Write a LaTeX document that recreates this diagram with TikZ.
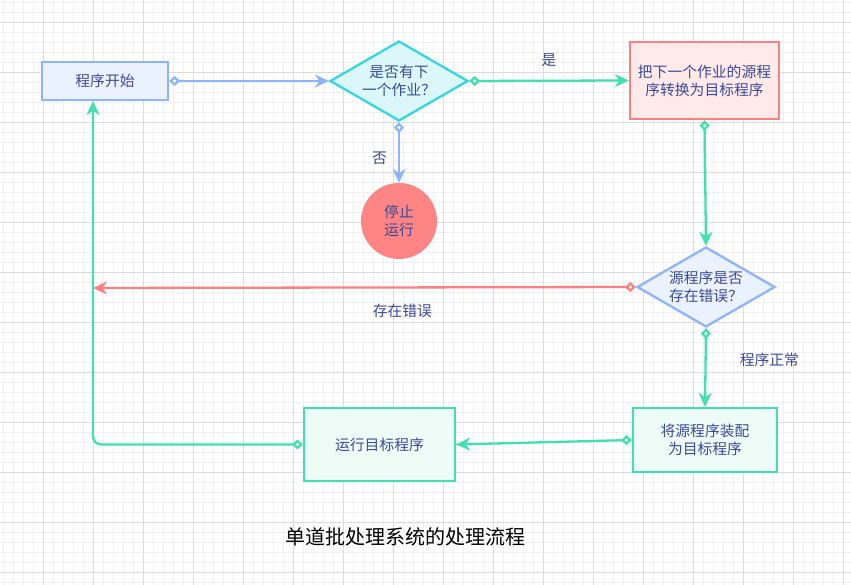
\documentclass[tikz,border=0pt]{standalone}
\usepackage{fontspec}
\setmainfont{Noto Sans CJK SC}
\usepackage{tikz}
\usetikzlibrary{positioning,shapes.geometric,arrows.meta,calc}
\definecolor{ink}      {HTML}{3C4A96}
\definecolor{skyline}  {HTML}{8FB4FF}
\definecolor{cyanline} {HTML}{36D5E3}
\definecolor{mint}     {HTML}{40E0B0}
\definecolor{coral}    {HTML}{FF8080}
\definecolor{gridmaj}  {HTML}{DCDCDC}
\definecolor{gridmin}  {HTML}{F1F1F1}
\colorlet{skyfill}{skyline!18}
\colorlet{cyanfill}{cyanline!18}
\colorlet{pinkfill}{coral!17}
\colorlet{mintfill}{mint!9}
\tikzset{
  every node/.style={font=\fontsize{14.8}{18}\selectfont, text=ink},
  % --- nodes
  mod/.style    = {draw, line width=2.3pt, align=center, inner sep=0pt},
  start/.style  = {mod, draw=skyline, fill=skyfill, minimum width=126, minimum height=38},
  ask/.style    = {mod, diamond, aspect=1.725, minimum width=138, minimum height=80},
  job/.style    = {mod, draw=coral, fill=pinkfill},
  runbox/.style = {mod, draw=mint, fill=mintfill},
  halt/.style   = {circle, fill=coral!96, minimum size=76, inner sep=0pt, align=center},
  lbl/.style    = {inner sep=1pt},
  % --- edges
  e/.style      = {arrows={Diamond[fill=white,length=11pt,width=10pt]-Stealth[length=14pt,width=13pt,inset=4.5pt]},
                   line width=2.3pt},
  eb/.style     = {e, draw=skyline},
  eg/.style     = {e, draw=mint},
  er/.style     = {e, draw=coral},
}

\begin{document}
\begin{tikzpicture}[x=1pt,y=-1pt]
  \useasboundingbox (0,0) rectangle (851,585);
  \fill[white] (0,0) rectangle (851,585);
  % grid
  \foreach \gx in {3,13,...,853} \draw[gridmin,line width=0.8pt] (\gx,0) -- (\gx,585);
  \foreach \gy in {2,12,...,582} \draw[gridmin,line width=0.8pt] (0,\gy) -- (851,\gy);
  \foreach \gx in {43,93,...,843} \draw[gridmaj,line width=0.8pt] (\gx,0) -- (\gx,585);
  \foreach \gy in {22,72,...,572} \draw[gridmaj,line width=0.8pt] (0,\gy) -- (851,\gy);

  \node[start] (s) at (105,81) {程序开始};
  \node[ask, draw=cyanline, fill=cyanfill] (q1) at (399,81) {是否有下\\一个作业？};
  \node[job, minimum width=149, minimum height=77] (conv) at (704.5,80.5) {把下一个作业的源程\\序转换为目标程序};
  \node[halt] (stop) at (399,221) {停止\\运行};
  \node[ask, draw=skyline, fill=skyfill] (q2) at (706,287) {源程序是否\\存在错误？};
  \node[runbox, minimum width=144, minimum height=64] (link) at (705,440) {将源程序装配\\为目标程序};
  \node[runbox, minimum width=151, minimum height=73] (run) at (379.5,444.5) {运行目标程序};
  \coordinate (err) at (93,288);

  \draw[eb] (s.east)--(q1.west);
  \draw[eg] (q1.east)--(conv.west) node[lbl, midway, above=12pt] {是};
  \draw[eb] (q1.south)--(stop.north) node[lbl, pos=0.6, left=10pt] {否};
  \draw[eg] (conv.south)--(q2.north);
  \draw[er] (q2.west)--(err) node[lbl, pos=0.43, below=14pt] {存在错误};
  \draw[eg] (q2.south)--(link.north) node[lbl, pos=0.4, right=32pt] {程序正常};
  \draw[eg] (link.west)--(run.east);
  \draw[eg, rounded corners=8pt] (run.west) -| ([xshift=-12pt]s.south);

  \node[text=black, font=\fontsize{20}{24}\selectfont] (title) at (405,537) {单道批处理系统的处理流程};
\end{tikzpicture}
\end{document}
